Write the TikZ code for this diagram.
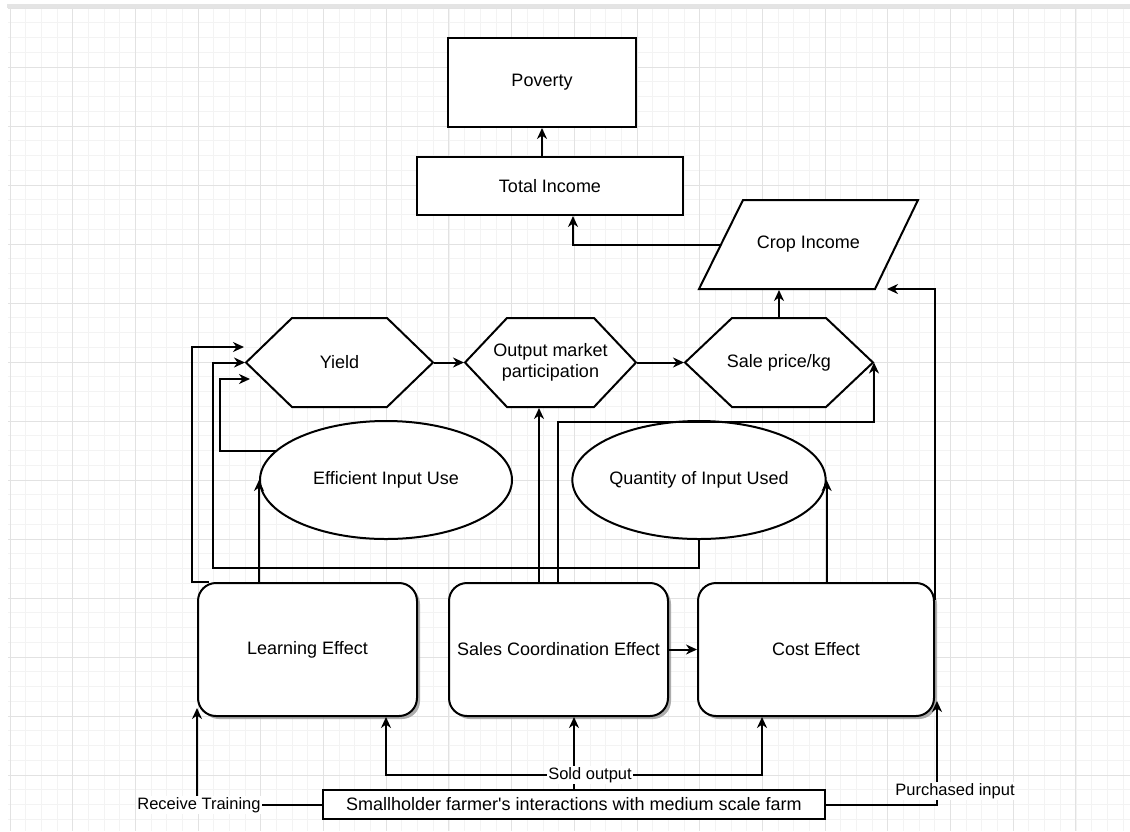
\documentclass[tikz,border=0pt]{standalone}
\usepackage{fontspec}
\setmainfont{Liberation Sans}
\newfontfamily\plainsans{Liberation Sans}
\usetikzlibrary{arrows.meta,calc,shapes.geometric,shadows}
\definecolor{majorgrid}{HTML}{E2E2E2}
\definecolor{minorgrid}{HTML}{F3F3F3}
\definecolor{topbar}{HTML}{E4E4E4}
\begin{document}
\begin{tikzpicture}[x=1pt,y=-1pt,
  line width=2pt,
  >={Stealth[length=11pt,width=10pt,inset=3.5pt]},
  nodefont/.style={font=\fontsize{18}{20.5}\selectfont},
  lblfont/.style={font=\fontsize{16.5}{19}\selectfont},
  plainbox/.style={draw, fill=white, nodefont, inner sep=0pt},
  effectbox/.style={draw, fill=white, rounded corners=18pt, nodefont, inner sep=0pt,
    minimum height=133pt,
    drop shadow={shadow xshift=3pt, shadow yshift=-3pt, fill=black!40, opacity=0.8}},
  oval/.style={ellipse, draw, fill=white, nodefont, inner sep=0pt,
    minimum width=252pt, minimum height=118pt},
  hexlabel/.style={nodefont, inner sep=0pt, align=center, minimum height=89pt},
  hexshape/.style={draw, fill=white, line join=miter},
  edgelabel/.style={lblfont, fill=white, inner sep=1pt},
  conn/.style={->, line width=2pt},
]
\useasboundingbox (0,0) rectangle (1130,831);
% background and grid
\fill[white] (0,0) rectangle (1130,831);
\foreach \i in {0,...,71} {\draw[minorgrid, line width=0.8pt] ({10+15.675*\i},8) -- ({10+15.675*\i},831);}
\foreach \j in {0,...,55} {\draw[minorgrid, line width=0.8pt] (8,{8+14.75*\j}) -- (1130,{8+14.75*\j});}
\foreach \i in {0,...,17} {\draw[majorgrid, line width=1pt] ({10+62.7*\i},8) -- ({10+62.7*\i},831);}
\foreach \j in {0,...,13} {\draw[majorgrid, line width=1pt] (8,{8+59*\j}) -- (1130,{8+59*\j});}
\fill[topbar] (7,4) rectangle (1130,8);

% top boxes
\node[plainbox, minimum width=188pt, minimum height=89pt] (pov) at (542,82.5) {Poverty};
\node[plainbox, minimum width=266pt, minimum height=58pt] (ti) at (550,186) {Total Income};
\draw[hexshape] (743,200) -- (918,200) -- (875,289) -- (699,289) -- cycle;
\node[nodefont, inner sep=0pt, minimum width=176pt, minimum height=89pt] (crop) at (808.5,244.5) {Crop Income};

% hexagons
\draw[hexshape] (246,362.5) -- (292,318) -- (387,318) -- (433,362.5) -- (387,407) -- (292,407) -- cycle;
\node[hexlabel, minimum width=187pt] (yield) at (339.5,362.5) {Yield};
\draw[hexshape] (465,362.5) -- (507,318) -- (594,318) -- (636,362.5) -- (594,407) -- (507,407) -- cycle;
\node[hexlabel, minimum width=171pt] (out) at (550.5,362.5) {Output market\\participation};
\draw[hexshape] (685,362.5) -- (732,318) -- (826,318) -- (873,362.5) -- (826,407) -- (732,407) -- cycle;
\node[hexlabel, minimum width=188pt] (sale) at (779,362.5) {Sale price/kg};

% ellipses
\node[oval] (eff) at (386,480) {Efficient Input Use};
\node[oval] (qty) at (699,480) {Quantity of Input Used};

% effect boxes
\node[effectbox, minimum width=219pt] (learn) at (307.5,649.5) {Learning Effect};
\node[effectbox, minimum width=219pt] (sales) at (558.5,649.5) {Sales Coordination Effect};
\node[effectbox, minimum width=236pt] (cost) at (816,649.5) {Cost Effect};

% bottom box
\node[plainbox, line width=1.5pt, minimum width=502pt, minimum height=29pt] (sh) at (574,804.5) {Smallholder farmer{\plainsans '}s interactions with medium scale farm};

% helper coordinates
\coordinate (yin1) at (244,347);
\coordinate (yin3) at (250,379);
\coordinate (effp) at (277,451);
\coordinate (cropL) at (721,244.5);
\coordinate (cropR) at (887,289);
\coordinate (jn) at (574,775);

% connectors
\draw[conn] (pov.south |- ti.north) -- (pov.south);
\draw[conn] (cropL) -| (ti.south -| 573,0);
\draw[conn] (sale.north) -- (sale.north |- crop.south);
\draw[conn] (yield.east) -- (out.west);
\draw[conn] (out.east) -- (sale.west);
\draw[conn] ($(learn.north west)+(12,0)$) -- ++(-17,0) |- (yin1);
\draw[conn] (qty.south) |- (213,568) |- (yield.west);
\draw[conn] (effp) -- (220,451) |- (yin3);
\draw[conn] (learn.north -| eff.west) -- (eff.west);
\draw[conn] (sales.north -| 539,0) -- (out.south -| 539,0);
\draw[conn] (sales.north -| 558,0) |- (sale.east |- 0,422) -- (sale.east);
\draw[conn] (sales.east) -- (cost.west);
\draw[conn] (cost.north -| qty.east) -- (qty.east);
\draw[conn] ($(cost.north east)+(0,18)$) |- (cropR);
\draw[conn] (sh.west) -| ($(learn.south west)+(0,-9)$);
\draw[conn] (sh.east) -| ($(cost.south east)+(2,-16)$);
\draw[conn] (sh.north) -- (sh.north |- sales.south);
\draw[conn] (jn) -| (learn.south -| 386,0);
\draw[conn] (jn) -| (cost.south -| 762,0);

% edge labels
\node[edgelabel] (rt) at (199,805) {Receive Training};
\node[edgelabel] (so) at (590,775) {Sold output};
\node[edgelabel] (pi) at (955,791) {Purchased input};
\end{tikzpicture}
\end{document}
